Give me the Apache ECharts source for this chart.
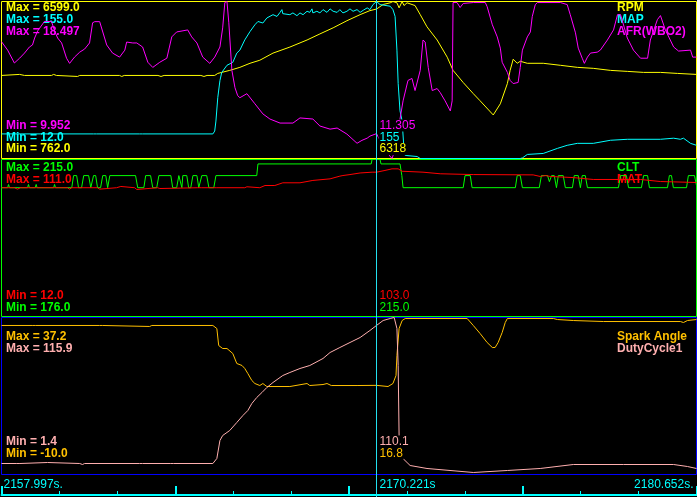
<!DOCTYPE html>
<html><head><meta charset="utf-8">
<script src="https://cdn.jsdelivr.net/npm/echarts@6/dist/echarts.min.js"></script>
<style>html,body{margin:0;padding:0;background:#000;}#c{width:697px;height:497px;}</style>
</head><body><div id="c"></div>
<script>
// ---- view / time ----
const viewStart = 2157.997;
const viewEnd = 2180.652;
const cursorTime = 12.224; // seconds after viewStart

// ---- trace meta ----
const traceNames = ['RPM', 'MAP', 'AFR(WBO2)', 'CLT', 'MAT', 'Spark Angle', 'DutyCycle1'];
const traceMin = [762.0, 12.0, 9.952, 176.0, 12.0, -10.0, 1.4];
const traceMax = [6599.0, 155.0, 18.497, 215.0, 111.0, 37.2, 115.9];
const labelDecimals = [1, 1, 3, 1, 1, 1, 1];
const readoutDecimals = [0, 0, 3, 1, 1, 1, 1];

// ---- series values: [seconds after viewStart, value] ----
const rpmData = [[0,3850],[0.59,3888],[0.75,3850],[1.63,3850],[1.70,3888],[1.79,3850],[2.48,3812],[2.55,3850],[3.85,3850],[3.92,3812],[4.0,3850],[5.1,3850],[5.2,3812],[5.3,3850],[6.5,3850],[6.6,3812],[6.7,3850],[6.95,3850],[7.05,3925],[7.18,3963],[7.44,4038],[7.77,4151],[8.10,4302],[8.42,4415],[8.85,4680],[9.40,4905],[9.96,5168],[10.38,5394],[10.81,5620],[11.26,5884],[11.69,6110],[12.01,6260],[12.224,6318],[12.44,6487],[12.67,6550],[12.76,6599],[12.89,6550],[12.96,6362],[13.06,6599],[13.12,6449],[13.22,6550],[13.48,6449],[13.65,6110],[13.87,5658],[14.20,5168],[14.53,4528],[14.72,4038],[15.05,3587],[15.38,3172],[15.60,2909],[16.03,2381],[16.26,2796],[16.49,3549],[16.58,4038],[16.68,4453],[16.81,4302],[16.91,4377],[17.14,4302],[17.66,4302],[18.22,4227],[18.77,4151],[19.29,4114],[19.85,4038],[20.40,4001],[20.93,3963],[21.48,3963],[22.04,3925],[22.655,3888]];
const mapData = [[0,34.4],[1.5,34.4],[1.55,35.3],[1.6,34.4],[3.0,34.4],[3.05,33.5],[3.1,34.4],[4.5,34.4],[4.55,35.3],[4.6,34.4],[6.89,34.4],[6.95,37.0],[6.99,46.1],[7.05,67.4],[7.12,83.0],[7.18,90.4],[7.35,96.9],[7.54,99.6],[7.67,108.0],[7.77,110.7],[7.93,120.0],[8.10,127.6],[8.26,133.8],[8.36,136.8],[8.42,138.4],[8.52,135.4],[8.65,140.0],[8.85,143.0],[8.98,141.4],[9.08,145.1],[9.14,147.6],[9.17,143.9],[9.40,143.0],[9.50,144.6],[9.63,142.1],[9.73,144.6],[9.83,143.0],[9.96,146.1],[10.05,145.1],[10.12,148.3],[10.15,144.6],[10.28,146.1],[10.38,144.6],[10.48,147.6],[10.61,145.1],[10.71,148.3],[10.81,146.1],[10.94,145.1],[11.03,147.6],[11.13,144.6],[11.26,146.1],[11.36,148.3],[11.46,146.1],[11.59,147.6],[11.69,145.1],[11.79,147.0],[11.92,149.2],[12.01,147.6],[12.11,152.2],[12.224,155.0],[12.34,152.2],[12.67,150.7],[12.76,147.6],[12.83,141.4],[12.89,110.7],[12.93,80.3],[12.99,55.4],[13.06,46.1],[13.12,20.0],[13.16,14.8],[13.55,13.8],[13.65,12.0],[16.91,12.0],[16.98,12.5],[17.14,15.7],[17.66,16.6],[18.12,21.2],[18.44,24.0],[18.77,25.8],[19.29,25.8],[19.85,28.6],[20.40,29.5],[21.48,29.5],[21.91,30.5],[22.13,29.5],[22.23,30.5],[22.46,25.8],[22.655,24.0]];
const afrData = [[0,16.31],[0.03,16.31],[0.20,15.85],[0.42,15.15],[0.59,15.41],[0.75,15.69],[0.91,16.02],[1.01,16.13],[1.08,16.51],[1.18,16.9],[1.40,17.41],[1.63,17.41],[1.73,16.9],[1.83,16.51],[1.96,16.24],[2.12,15.41],[2.22,15.13],[2.38,15.47],[2.55,15.74],[2.71,15.91],[2.87,16.24],[2.97,17.34],[3.04,17.40],[3.20,17.40],[3.26,17.34],[3.43,16.13],[3.62,15.69],[3.85,15.47],[4.02,15.85],[4.08,16.29],[4.28,16.24],[4.41,16.24],[4.60,16.02],[4.77,15.19],[4.93,14.91],[5.16,15.19],[5.39,15.41],[5.55,16.57],[5.71,16.84],[6.07,16.95],[6.20,16.57],[6.37,16.24],[6.56,15.47],[6.79,15.13],[6.95,15.47],[7.12,16.02],[7.21,17.06],[7.28,18.44],[7.35,18.497],[7.38,18.44],[7.41,17.34],[7.51,14.75],[7.61,13.81],[7.70,13.37],[7.77,13.26],[8.00,13.48],[8.26,12.93],[8.52,12.38],[8.75,12.10],[9.08,11.88],[9.50,11.88],[9.73,12.16],[10.15,12.10],[10.38,11.72],[10.71,11.55],[10.94,11.61],[11.26,11.28],[11.59,10.78],[11.75,10.94],[11.92,11.06],[12.01,11.17],[12.224,11.305],[12.50,10.40],[12.73,9.952],[12.93,10.90],[12.99,12.10],[13.09,13.09],[13.25,14.20],[13.38,14.31],[13.48,13.65],[13.65,14.75],[13.74,16.40],[13.81,16.29],[13.91,14.91],[14.04,13.65],[14.20,13.76],[14.30,13.54],[14.46,13.09],[14.63,12.54],[14.69,13.09],[14.72,18.44],[14.85,18.44],[14.95,18.17],[15.05,18.39],[15.38,18.44],[15.77,18.44],[15.83,18.22],[16.00,17.23],[16.16,16.57],[16.26,15.96],[16.32,15.19],[16.49,14.64],[16.58,14.20],[16.68,14.03],[16.84,14.09],[16.91,14.91],[16.98,15.85],[17.14,16.57],[17.24,16.84],[17.30,17.67],[17.40,18.33],[17.47,18.44],[18.22,18.44],[18.44,18.33],[18.54,17.78],[18.71,16.79],[18.80,15.96],[18.93,15.41],[19.00,15.13],[19.10,15.47],[19.20,15.69],[19.42,15.74],[19.52,15.85],[19.75,16.40],[19.95,16.95],[20.08,17.78],[20.18,17.78],[20.40,16.51],[20.60,15.85],[20.83,15.41],[21.06,15.41],[21.15,16.40],[21.38,17.51],[21.48,17.73],[21.64,16.95],[21.91,16.02],[22.07,15.80],[22.46,15.85],[22.53,15.47],[22.655,15.47]];
const cltData = [[0,208.0],[0.2,208.0],[0.23,208.8],[0.26,208.0],[0.85,208.0],[0.88,208.8],[0.91,208.0],[1.1,208.0],[1.13,208.8],[1.16,208.0],[1.7,208.0],[1.73,208.8],[1.76,208.0],[2.29,208.0],[2.35,211.0],[2.45,211.0],[2.51,208.0],[2.61,208.0],[2.68,211.0],[2.84,211.0],[2.91,208.0],[2.94,208.0],[3.0,211.0],[3.07,211.0],[3.13,208.0],[3.23,208.0],[3.30,211.0],[3.40,211.0],[3.46,208.0],[3.50,208.0],[3.53,211.0],[4.37,211.0],[4.44,208.0],[4.64,208.0],[4.70,211.0],[4.86,211.0],[4.93,208.0],[5.06,208.0],[5.13,211.0],[5.52,211.0],[5.58,208.0],[5.71,208.0],[5.78,211.0],[5.84,211.0],[5.88,208.0],[5.91,211.0],[6.04,211.0],[6.10,208.0],[6.17,208.0],[6.24,211.0],[6.37,211.0],[6.43,208.0],[6.46,208.0],[6.53,211.0],[6.69,211.0],[6.76,208.0],[6.92,208.0],[6.99,211.0],[8.32,211.0],[8.36,213.9],[12.05,213.9],[12.08,215.0],[12.224,215.0],[12.34,215.0],[12.37,213.9],[12.99,213.9],[13.05,211.0],[13.09,208.0],[15.05,208.0],[15.11,211.0],[15.28,211.0],[15.34,208.0],[16.75,208.0],[16.81,211.0],[16.91,211.0],[16.98,208.0],[17.53,208.0],[17.60,211.0],[17.80,211.0],[17.86,209.5],[17.93,211.0],[18.02,211.0],[18.09,208.0],[18.15,211.0],[18.31,211.0],[18.38,208.0],[18.61,208.0],[18.67,211.0],[18.80,211.0],[18.87,208.0],[18.93,211.0],[19.03,211.0],[19.10,208.0],[20.11,208.0],[20.18,211.0],[20.37,211.0],[20.44,208.0],[20.86,208.0],[20.93,211.0],[21.06,211.0],[21.12,208.0],[21.71,208.0],[21.77,211.0],[21.84,211.0],[21.90,208.0],[22.33,208.0],[22.39,211.0],[22.59,211.0],[22.655,208.5]];
const matData = [[0,93.2],[0.42,93.2],[0.52,92.3],[0.62,93.2],[1.18,93.2],[1.24,92.1],[1.31,93.2],[2.15,93.2],[2.22,92.3],[2.29,93.2],[3.13,93.2],[3.2,92.3],[3.26,93.2],[3.75,93.2],[3.79,94.0],[3.89,94.0],[3.92,93.2],[4.34,93.2],[4.41,92.1],[4.47,93.2],[5.09,93.2],[5.16,92.7],[5.22,93.2],[6.4,93.2],[6.46,92.7],[6.53,93.2],[6.89,93.2],[6.95,92.3],[7.02,93.2],[7.93,93.2],[8.0,93.8],[8.06,93.2],[8.42,93.2],[8.59,94.6],[8.91,94.6],[9.17,96.3],[9.73,96.3],[10.15,97.8],[10.71,98.8],[11.03,100.5],[11.13,100.9],[11.36,101.5],[11.69,102.5],[12.08,103.0],[12.224,103.0],[12.5,104.1],[12.73,105.1],[12.93,105.1],[13.06,103.6],[13.74,103.0],[14.3,102.0],[15.38,101.5],[17.33,101.3],[17.56,100.3],[17.73,100.9],[17.89,100.3],[18.64,99.6],[19.29,98.4],[20.83,98.4],[21.48,97.1],[21.9,96.9],[22.655,96.5]];
const sparkData = [[0,34.8],[1.0,34.8],[1.05,34.5],[1.1,34.8],[3.2,34.8],[3.25,35.1],[3.3,34.8],[4.83,34.5],[4.9,34.8],[6.89,34.8],[7.02,33.88],[7.08,28.78],[7.21,27.88],[7.35,27.88],[7.41,27.28],[7.54,26.37],[7.67,23.37],[7.84,22.77],[7.93,21.87],[8.03,20.36],[8.16,18.26],[8.26,17.35],[8.42,16.75],[8.52,17.35],[8.65,16.45],[9.40,16.45],[9.96,17.35],[10.05,16.75],[10.48,17.05],[10.61,17.35],[10.75,16.75],[11.59,16.75],[12.224,16.8],[12.60,16.45],[12.76,17.35],[12.86,19.76],[12.89,25.77],[12.96,33.88],[13.06,36.29],[13.16,36.89],[15.18,36.89],[15.38,34.79],[15.60,32.39],[15.83,29.68],[16.00,28.18],[16.09,28.18],[16.19,29.68],[16.32,32.69],[16.42,35.69],[16.49,36.89],[17.99,36.89],[18.12,36.59],[18.64,36.29],[19.62,35.99],[22.13,35.99],[22.23,35.69],[22.36,36.29],[22.655,36.59]];
const dutyData = [[0,9.42],[0.5,9.42],[0.55,8.7],[0.6,9.42],[1.5,10.15],[1.55,9.42],[2.55,9.42],[2.64,8.7],[2.71,9.42],[4.5,9.42],[4.55,8.7],[4.6,9.42],[5.5,9.42],[5.55,10.15],[5.6,9.42],[6.89,9.42],[7.02,13.07],[7.12,26.20],[7.21,29.84],[7.44,33.49],[7.67,39.32],[7.87,44.43],[8.03,48.08],[8.16,53.18],[8.32,57.56],[8.49,61.20],[8.65,64.85],[8.85,68.50],[9.17,73.60],[9.40,75.79],[9.73,78.71],[10.05,80.89],[10.48,86.00],[10.71,90.37],[11.03,94.02],[11.36,97.67],[11.69,101.31],[12.01,106.42],[12.224,110.1],[12.44,113.71],[12.67,115.17],[12.80,115.9],[12.89,107.88],[12.93,80.89],[12.96,29.84],[13.03,15.3],[13.09,13.0],[13.22,10.15],[13.32,7.96],[13.87,5.78],[15.38,2.86],[16.49,4.32],[17.56,5.78],[18.64,8.69],[20.27,8.69],[21.91,8.69],[22.36,7.23],[22.655,5.78]];

const traceData = [rpmData, mapData, afrData, cltData, matData, sparkData, dutyData];

// ---- styles / layout ----
const traceColors = ['#ffff00', '#00ffff', '#ff00ff', '#00ff00', '#ff0000', '#ffc000', '#ffafaf'];
const tracePanel = [0, 0, 0, 1, 1, 2, 2];
const panelTraces = [[0, 1, 2], [3, 4], [5, 6]];
const panelBorder = ['#ffff00', '#00ff00', '#0000ff'];
const panelTop = [1.5, 159.5, 317.5];
const panelHeight = 157;
const maxRowY = [8, 167.5, 336.5];
const minRowY = [125.5, 295.5, 441.5];
const rowStep = 11.8;
const cursorColor = '#22e0f0';
const axisColor = '#00ffff';

const span = +(viewEnd - viewStart).toFixed(3);

const chart = echarts.init(document.getElementById('c'), null, {renderer: 'canvas'});

const grids = panelTop.map((t, i) => ({
  left: 1.5, top: t, width: 695, height: panelHeight,
  show: true, borderColor: panelBorder[i], borderWidth: 1, backgroundColor: 'transparent'
}));
grids.push({left: 1.5, top: 476, width: 695, height: 19, show: false});

const xAxes = [0, 1, 2].map(i => ({
  type: 'value', gridIndex: i, min: 0, max: span, show: false
}));
xAxes.push({
  type: 'value', gridIndex: 3, min: 0, max: span, interval: span / 4, position: 'bottom',
  axisLine: {show: true, onZero: false, lineStyle: {color: axisColor, width: 2}},
  axisTick: {show: true, inside: true, length: 9, lineStyle: {color: axisColor, width: 2}},
  minorTick: {show: true, splitNumber: 3, length: 4, lineStyle: {color: axisColor, width: 1}},
  axisLabel: {show: false}, splitLine: {show: false}, minorSplitLine: {show: false}
});

const yAxes = traceNames.map((n, i) => ({
  type: 'value', gridIndex: tracePanel[i], min: traceMin[i], max: traceMax[i], show: false
}));
yAxes.push({type: 'value', gridIndex: 3, min: 0, max: 1, show: false});

const series = traceNames.map((n, i) => ({
  name: n, type: 'line', xAxisIndex: tracePanel[i], yAxisIndex: i,
  data: traceData[i], showSymbol: false, symbol: 'none', smooth: false,
  lineStyle: {color: traceColors[i], width: 1}, z: 2, silent: true, animation: false
}));

chart.setOption({
  backgroundColor: '#000',
  animation: false,
  grid: grids, xAxis: xAxes, yAxis: yAxes, series: series
});

function valueAt(data, t) {
  let best = data[0];
  for (const p of data) {
    if (Math.abs(p[0] - t) < 1e-6) return p[1];
    if (p[0] <= t) best = p;
  }
  return best[1];
}

const boldFont = 'bold 12px "Liberation Sans", Arial, sans-serif';
const normFont = '12px "Liberation Sans", Arial, sans-serif';

function txt(x, y, s, color, font, z, opts) {
  return {
    type: 'text', x: x, y: y, z: z, silent: true,
    style: Object.assign({text: s, fill: color, font: font,
      align: 'left', verticalAlign: 'middle', textAlign: 'left', textVerticalAlign: 'middle'}, (opts || {}))
  };
}

const cx = Math.floor(chart.convertToPixel({xAxisIndex: 0}, cursorTime)) + 0.5;
const els = [];
panelTraces.forEach((list, p) => {
  list.forEach((ti, r) => {
    const y = maxRowY[p] + r * rowStep;
    els.push(txt(6, y, 'Max = ' + traceMax[ti].toFixed(labelDecimals[ti]), traceColors[ti], boldFont, 1));
    els.push(txt(617, y, traceNames[ti], traceColors[ti], boldFont, 1));
  });
  const rev = list.slice().reverse();
  rev.forEach((ti, r) => {
    const y = minRowY[p] + r * rowStep;
    els.push(txt(6, y, 'Min = ' + traceMin[ti].toFixed(labelDecimals[ti]), traceColors[ti], boldFont, 1));
    const v = valueAt(traceData[ti], cursorTime);
    els.push(txt(cx + 2, y, v.toFixed(readoutDecimals[ti]), traceColors[ti], normFont, 60,
      {backgroundColor: '#000', padding: [0, 1, 0, 1]}));
  });
});
// cursor line
els.push({type: 'line', silent: true, z: 50,
  shape: {x1: cx, y1: 0, x2: cx, y2: 497}, style: {stroke: cursorColor, lineWidth: 1}});
// time labels
const x0 = chart.convertToPixel({xAxisIndex: 3}, 0);
const x1 = chart.convertToPixel({xAxisIndex: 3}, span);
els.push(txt(x0 + 2, 484.5, viewStart.toFixed(3) + 's.', axisColor, normFont, 5));
els.push(txt(cx + 3, 484.5, (viewStart + cursorTime).toFixed(3) + 's', axisColor, normFont, 5));
els.push(txt(x1 - 3, 484.5, viewEnd.toFixed(3) + 's.', axisColor, normFont, 5, {align: 'right', textAlign: 'right'}));

chart.setOption({graphic: {elements: els}});
</script></body></html>
